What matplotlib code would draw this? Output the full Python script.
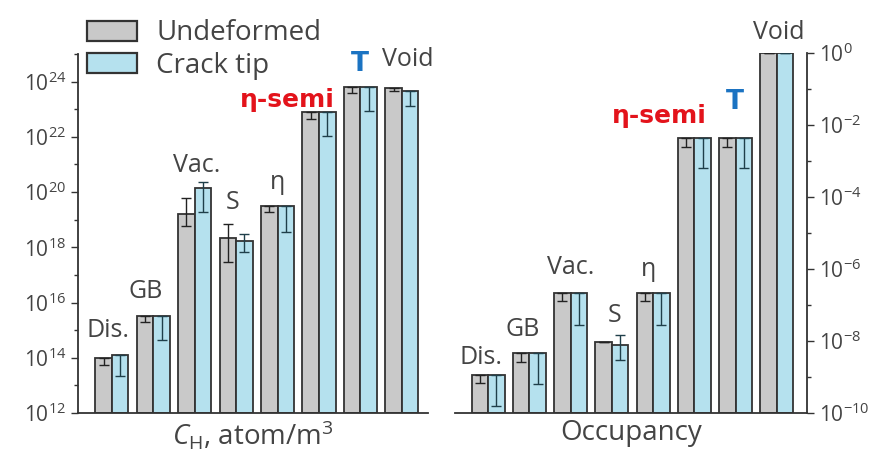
import numpy as np
import matplotlib
matplotlib.use("Agg")
import matplotlib.pyplot as plt
from matplotlib.patches import Patch
from matplotlib.ticker import FixedLocator, FuncFormatter, NullFormatter

plt.rcParams['font.family'] = ['Open Sans', 'DejaVu Sans']
plt.rcParams['mathtext.fontset'] = 'custom'
plt.rcParams['mathtext.rm'] = 'Open Sans'
plt.rcParams['mathtext.it'] = 'Open Sans:italic'
plt.rcParams['mathtext.bf'] = 'Open Sans:bold'

sites = ["Dis.", "GB", "Vac.", "S", "η", "η-semi", "T", "Void"]

# log10 of C_H (atom/m^3)
ch_undef = [14.0, 15.53, 19.2, 18.33, 19.49, 22.9, 23.8, 23.78]
ch_undef_lo = [13.75, 15.3, 18.76, 17.45, 19.27, 22.65, 23.6, 23.65]
ch_undef_hi = [14.0, 15.53, 19.8, 18.84, 19.49, 22.9, 23.8, 23.78]
ch_crack = [14.1, 15.53, 20.15, 18.22, 19.49, 22.9, 23.8, 23.67]
ch_crack_lo = [13.35, 14.65, 19.27, 17.82, 18.55, 22.04, 22.95, 23.13]
ch_crack_hi = [14.1, 15.53, 20.36, 18.47, 19.49, 22.9, 23.8, 23.67]

# log10 of occupancy
occ_undef = [-8.95, -8.33, -6.67, -8.03, -6.67, -2.36, -2.36, 0.0]
occ_undef_lo = [-9.17, -8.58, -6.9, -8.03, -6.9, -2.61, -2.61, 0.0]
occ_undef_hi = [-8.95, -8.33, -6.67, -8.03, -6.67, -2.36, -2.36, 0.0]
occ_crack = [-8.95, -8.33, -6.67, -8.1, -6.67, -2.36, -2.36, 0.0]
occ_crack_lo = [-9.8, -9.2, -7.55, -8.53, -7.55, -3.19, -3.19, 0.0]
occ_crack_hi = [-8.95, -8.33, -6.67, -7.83, -6.67, -2.36, -2.36, 0.0]

# label offsets in pixels (dx, dy) from group centre / top of bars
left_offsets = [(-4, 25), (-8, 24), (2, 17), (-4, 22), (0, 24), (-32, 12), (-1, 23), (6, 28)]
right_offsets = [(-7, 18), (-7, 23), (0, 26), (3, 19), (-5, 24), (-35, 22), (-1, 36), (2, 20)]

gray = "#c9c9c9"
blue = "#b5e1ee"
edge = "#333333"
txt = "#444444"
special = {"η-semi": ("#e3131b", "bold", 18), "T": ("#1b73c2", "bold", 19)}

fig = plt.figure(figsize=(8.72, 4.59), dpi=100)
ax1 = fig.add_axes([0.0894, 0.1002, 0.4014, 0.7822])
ax2 = fig.add_axes([0.522, 0.1002, 0.4035, 0.7844])

x = np.arange(len(sites))
w = 0.4


def draw_panel(ax, undef, ulo, uhi, crack, clo, chi, ymin, ymax, offsets):
    undef = 10.0 ** np.array(undef)
    crack = 10.0 ** np.array(crack)
    base = 10.0 ** ymin
    ax.bar(x - w / 2, undef - base, w, bottom=base, color=gray, edgecolor=edge, lw=1.3)
    ax.bar(x + w / 2, crack - base, w, bottom=base, color=blue, edgecolor=edge, lw=1.3)
    uerr = [undef - 10.0 ** np.array(ulo), 10.0 ** np.array(uhi) - undef]
    cerr = [crack - 10.0 ** np.array(clo), 10.0 ** np.array(chi) - crack]
    ax.errorbar(x - w / 2, undef, yerr=uerr, fmt="none", ecolor="#222222", elinewidth=1.0, capsize=3.5, capthick=1.0)
    ax.errorbar(x + w / 2, crack, yerr=cerr, fmt="none", ecolor="#1f3f4a", elinewidth=1.0, capsize=3.5, capthick=1.0)
    ax.set_yscale("log")
    ax.set_ylim(10.0 ** ymin, 10.0 ** ymax)
    ax.yaxis.set_major_locator(FixedLocator(10.0 ** np.arange(ymin, ymax + 1, 2)))
    ax.yaxis.set_minor_locator(FixedLocator(10.0 ** np.arange(ymin + 1, ymax + 1, 2)))
    ax.yaxis.set_major_formatter(FuncFormatter(lambda v, p: r"$10^{%d}$" % round(np.log10(v))))
    ax.yaxis.set_minor_formatter(NullFormatter())
    ax.set_xticks([])
    ax.spines["top"].set_visible(False)
    for s in ax.spines.values():
        s.set_linewidth(1.3)
        s.set_color(edge)
    ax.tick_params(axis="y", which="major", length=5, width=1.0, color=edge, labelsize=15, labelcolor=txt)
    ax.tick_params(axis="y", which="minor", length=3, width=1.0, color=edge)
    tops = np.maximum(np.maximum(undef, crack), np.maximum(10.0 ** np.array(uhi), 10.0 ** np.array(chi)))
    for i, name in enumerate(sites):
        color, weight, size = special.get(name, (txt, "normal", 18))
        ax.annotate(name, (x[i], tops[i]), xytext=offsets[i], textcoords="offset pixels",
                    ha="center", va="center", fontsize=size, color=color, fontweight=weight,
                    family=["DejaVu Sans"] if name in special else None,
                    annotation_clip=False)


draw_panel(ax1, ch_undef, ch_undef_lo, ch_undef_hi, ch_crack, ch_crack_lo, ch_crack_hi,
           12, 25, left_offsets)
ax1.spines["right"].set_visible(False)
ax1.set_xlim(-0.82, 7.63)
ax1.set_xlabel(r"$\mathit{C}_{\mathrm{H}}$, atom/m$^3$", fontsize=20, color=txt, labelpad=4)

draw_panel(ax2, occ_undef, occ_undef_lo, occ_undef_hi, occ_crack, occ_crack_lo, occ_crack_hi,
           -10, 0, right_offsets)
ax2.spines["left"].set_visible(False)
ax2.yaxis.tick_right()
ax2.set_xlim(-0.8, 7.73)
ax2.set_xlabel("Occupancy", fontsize=20, color=txt, labelpad=4)

handles = [Patch(facecolor=gray, edgecolor=edge, lw=1.6, label="Undeformed"),
           Patch(facecolor=blue, edgecolor=edge, lw=1.6, label="Crack tip")]
leg = fig.legend(handles=handles, loc="upper left", bbox_to_anchor=(0.077, 1.0), frameon=False,
                 fontsize=20, handlelength=1.8, handleheight=0.75, handletextpad=0.7,
                 labelspacing=0.15, borderpad=0.2)
for t in leg.get_texts():
    t.set_color(txt)

fig.savefig("out.png", dpi=100)
